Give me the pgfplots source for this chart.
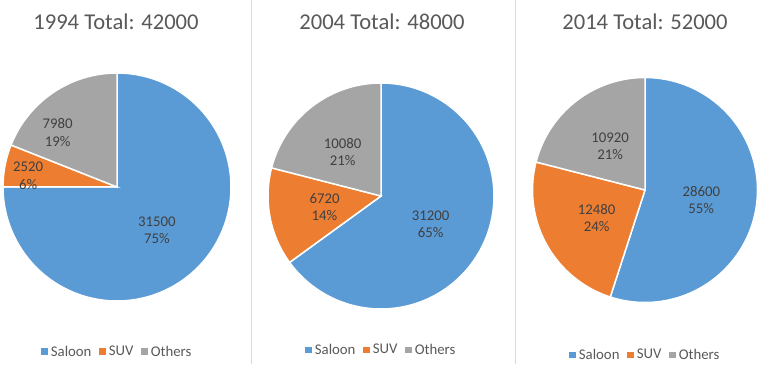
\documentclass[border=0pt]{standalone}
\usepackage{pgfplots}
\pgfplotsset{compat=1.18}
\usepackage{pgfplotstable}
\usepackage{fontspec}
\setmainfont{Carlito}
\definecolor{saloon}{HTML}{5B9BD5}
\definecolor{suv}{HTML}{ED7D31}
\definecolor{others}{HTML}{A5A5A5}
\definecolor{titlec}{HTML}{595959}
\definecolor{labc}{HTML}{404040}
\definecolor{divc}{HTML}{D9D9D9}

\pgfplotstableread{
cat value
Saloon 31500
SUV 2520
Others 7980
}\dataA
\pgfplotstableread{
cat value
Saloon 31200
SUV 6720
Others 10080
}\dataB
\pgfplotstableread{
cat value
Saloon 28600
SUV 12480
Others 10920
}\dataC

\newcommand\pietotal[1]{%
  \pgfplotstablegetelem{0}{value}\of{#1}\let\va\pgfplotsretval
  \pgfplotstablegetelem{1}{value}\of{#1}\let\vb\pgfplotsretval
  \pgfplotstablegetelem{2}{value}\of{#1}\let\vc\pgfplotsretval
  \xdef\tot{\fpeval{\va+\vb+\vc}}%
  \gdef\ang{90}}
\newcommand\slice[3]{%
  \pgfplotstablegetelem{#2}{value}\of{#1}%
  \edef\newang{\fpeval{\ang-360*\pgfplotsretval/\tot}}%
  \edef\doplot{\noexpand\addplot[fill=#3,draw=white,line width=1.5pt,domain=\newang:\ang,samples=160] ({cos(x)},{sin(x)}) -- (axis cs:0,0) -- cycle;}%
  \doplot
  \global\let\ang\newang}

\pgfplotsset{
  pieaxis/.style={
    scale only axis, anchor=center, hide axis, clip=false,
    xmin=-1,xmax=1,ymin=-1,ymax=1,
    legend columns=3,
    legend image code/.code={\fill[##1,draw=none] (0pt,-3.4pt) rectangle (6.8pt,3.4pt);},
    legend style={draw=none, fill=none, anchor=center, text=titlec,
      font=\fontsize{14.8}{17}\selectfont,
      /tikz/every odd column/.append style={column sep=1.5pt},
      /tikz/every even column/.append style={column sep=6pt},
      nodes={inner sep=1.5pt}},
  },
}
\tikzset{lab/.style={text=labc, align=center, font=\fontsize{14.8}{17.5}\selectfont}}

\begin{document}
\begin{tikzpicture}[x=1pt,y=1pt]
\useasboundingbox (0,0) rectangle (760,364);
\draw[divc, line width=0.8pt] (251,0) -- (251,364);
\draw[divc, line width=0.8pt] (515,0) -- (515,364);

% 1994
\node[text=titlec, font=\fontsize{22.6}{26}\selectfont] at (116,342) {1994 Total: 42000};
\pietotal{\dataA}
\begin{axis}[pieaxis, at={(117pt,177pt)}, width=228pt, height=228pt,
  legend style={at={(0.5,-0.222)}}]
\slice{\dataA}{0}{saloon}
\slice{\dataA}{1}{suv}
\slice{\dataA}{2}{others}
\legend{Saloon,SUV,Others}
\node[lab] at (axis cs:0.35,-0.38) {31500\\75\%};
\node[lab] at (axis cs:-0.78,0.10) {2520\\6\%};
\node[lab] at (axis cs:-0.52,0.48) {7980\\19\%};
\end{axis}

% 2004
\node[text=titlec, font=\fontsize{22.6}{26}\selectfont] at (382,342) {2004 Total: 48000};
\pietotal{\dataB}
\begin{axis}[pieaxis, at={(381pt,168pt)}, width=226pt, height=226pt,
  legend style={at={(0.5,-0.181)}}]
\slice{\dataB}{0}{saloon}
\slice{\dataB}{1}{suv}
\slice{\dataB}{2}{others}
\legend{Saloon,SUV,Others}
\node[lab] at (axis cs:0.44,-0.25) {31200\\65\%};
\node[lab] at (axis cs:-0.50,-0.10) {6720\\14\%};
\node[lab] at (axis cs:-0.34,0.39) {10080\\21\%};
\end{axis}

% 2014
\node[text=titlec, font=\fontsize{22.6}{26}\selectfont] at (645,342) {2014 Total: 52000};
\pietotal{\dataC}
\begin{axis}[pieaxis, at={(645pt,174pt)}, width=225pt, height=225pt,
  legend style={at={(0.5,-0.233)}}]
\slice{\dataC}{0}{saloon}
\slice{\dataC}{1}{suv}
\slice{\dataC}{2}{others}
\legend{Saloon,SUV,Others}
\node[lab] at (axis cs:0.50,-0.09) {28600\\55\%};
\node[lab] at (axis cs:-0.43,-0.25) {12480\\24\%};
\node[lab] at (axis cs:-0.31,0.39) {10920\\21\%};
\end{axis}
\end{tikzpicture}
\end{document}
